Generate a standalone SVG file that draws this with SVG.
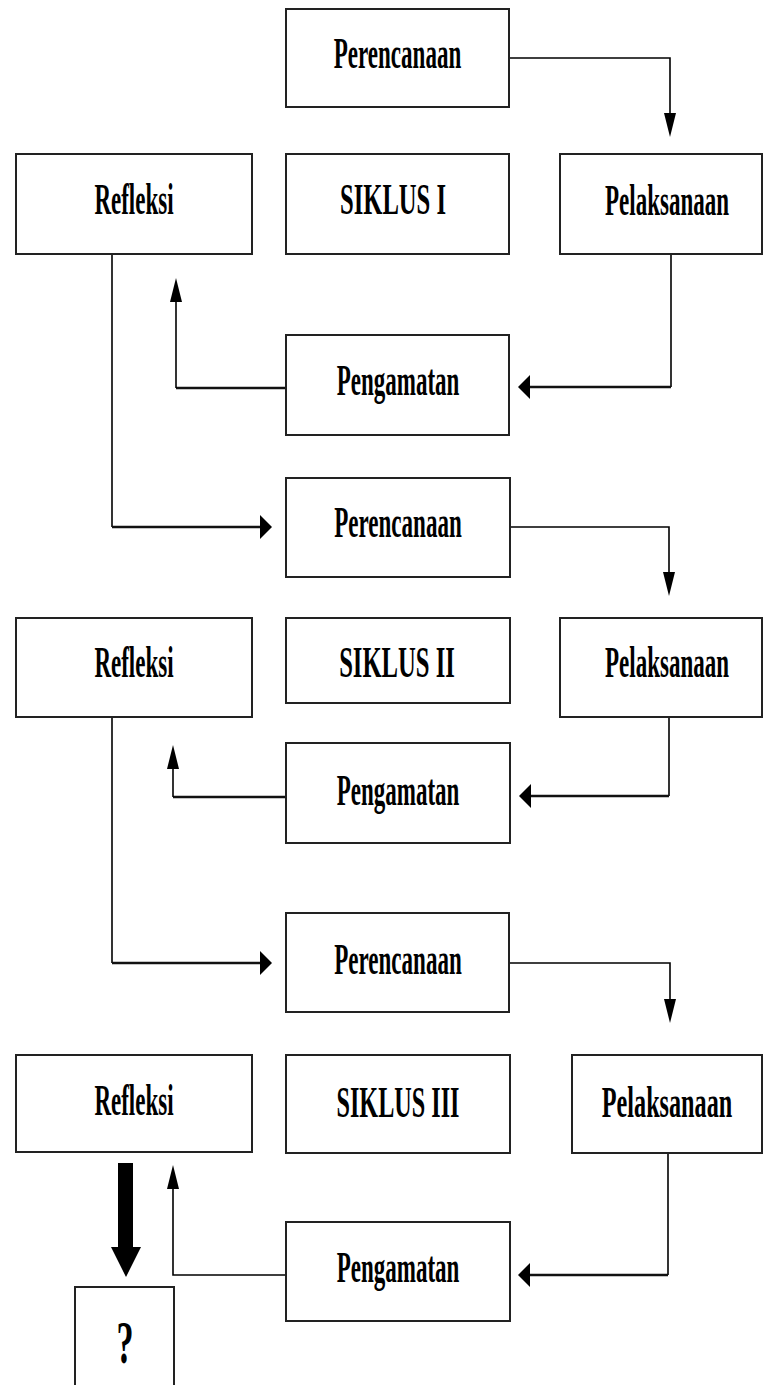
<svg xmlns="http://www.w3.org/2000/svg" width="764" height="1385" viewBox="0 0 764 1385">
<style>
.box{fill:#fff;stroke:#222;stroke-width:2}
.t{font-family:"Liberation Serif","Times New Roman",serif;font-weight:bold;font-size:44px;fill:#000;text-anchor:middle}
.q{font-family:"Liberation Serif","Times New Roman",serif;font-weight:bold;font-size:62px;fill:#000;text-anchor:middle}
.c{fill:none;stroke:#000;stroke-width:1.6}
.ct{fill:none;stroke:#111;stroke-width:2.6}
</style>
<defs>
<marker id="aDown" markerUnits="userSpaceOnUse" viewBox="0 0 12 24" markerWidth="12" markerHeight="24" refX="6" refY="18" orient="0"><path d="M0,0 L12,0 L6,24 Z" fill="#000"/></marker>
<marker id="aUp" markerUnits="userSpaceOnUse" viewBox="0 0 12 24" markerWidth="12" markerHeight="24" refX="6" refY="6" orient="0"><path d="M6,0 L12,24 L0,24 Z" fill="#000"/></marker>
<marker id="aLeft" markerUnits="userSpaceOnUse" viewBox="0 0 12 24" markerWidth="12" markerHeight="24" refX="4" refY="12" orient="0"><path d="M0,12 L12,0 L12,24 Z" fill="#000"/></marker>
<marker id="aRight" markerUnits="userSpaceOnUse" viewBox="0 0 12 24" markerWidth="12" markerHeight="24" refX="8" refY="12" orient="0"><path d="M12,12 L0,0 L0,24 Z" fill="#000"/></marker>
</defs>
<rect width="764" height="1385" fill="#fff"/>

<g id="connectors">
<path class="c" d="M509,58 H670 V131" marker-end="url(#aDown)"/>
<path class="c" d="M671,254 V387"/>
<path class="ct" d="M671,387 H522" marker-end="url(#aLeft)"/>
<path class="ct" d="M286,388 H176"/>
<path class="c" d="M176,388 V284" marker-end="url(#aUp)"/>
<path class="c" d="M112,254 V527"/>
<path class="ct" d="M112,527 H268" marker-end="url(#aRight)"/>
<path class="c" d="M510,527 H669 V590" marker-end="url(#aDown)"/>
<path class="c" d="M669,717 V796"/>
<path class="ct" d="M669,796 H523" marker-end="url(#aLeft)"/>
<path class="ct" d="M286,797 H173"/>
<path class="c" d="M173,797 V751" marker-end="url(#aUp)"/>
<path class="c" d="M112,717 V963"/>
<path class="ct" d="M112,963 H268" marker-end="url(#aRight)"/>
<path class="c" d="M509,963 H670 V1017" marker-end="url(#aDown)"/>
<path class="c" d="M668,1153 V1275"/>
<path class="ct" d="M668,1275 H522" marker-end="url(#aLeft)"/>
<path class="c" d="M286,1275 H173 V1171" marker-end="url(#aUp)"/>
<polygon points="118,1163 133,1163 133,1247 141,1247 126,1277 111,1247 118,1247" fill="#000"/>
</g>

<g id="perencanaan1"><rect class="box" x="286" y="9" width="223" height="98"/><text class="t" transform="translate(397.5,68) scale(0.524,1)">Perencanaan</text></g>
<g id="refleksi1"><rect class="box" x="16" y="154" width="236" height="100"/><text class="t" transform="translate(134,214) scale(0.523,1)">Refleksi</text></g>
<g id="siklus1"><rect class="box" x="286" y="154" width="223" height="100"/><text class="t" transform="translate(393,214) scale(0.56,1)">SIKLUS I</text></g>
<g id="pelaksanaan1"><rect class="box" x="560" y="154" width="202" height="100"/><text class="t" transform="translate(667,215) scale(0.523,1)">Pelaksanaan</text></g>
<g id="pengamatan1"><rect class="box" x="286" y="335" width="223" height="100"/><text class="t" transform="translate(398,395) scale(0.523,1)">Pengamatan</text></g>

<g id="perencanaan2"><rect class="box" x="286" y="478" width="224" height="99"/><text class="t" transform="translate(398,537) scale(0.524,1)">Perencanaan</text></g>
<g id="refleksi2"><rect class="box" x="16" y="618" width="236" height="99"/><text class="t" transform="translate(134,677) scale(0.523,1)">Refleksi</text></g>
<g id="siklus2"><rect class="box" x="286" y="618" width="224" height="85"/><text class="t" transform="translate(397,677) scale(0.56,1)">SIKLUS II</text></g>
<g id="pelaksanaan2"><rect class="box" x="560" y="618" width="202" height="99"/><text class="t" transform="translate(667,677) scale(0.523,1)">Pelaksanaan</text></g>
<g id="pengamatan2"><rect class="box" x="286" y="743" width="224" height="100"/><text class="t" transform="translate(398,805) scale(0.523,1)">Pengamatan</text></g>

<g id="perencanaan3"><rect class="box" x="286" y="913" width="223" height="99"/><text class="t" transform="translate(398,974) scale(0.524,1)">Perencanaan</text></g>
<g id="refleksi3"><rect class="box" x="16" y="1055" width="236" height="97"/><text class="t" transform="translate(134,1115) scale(0.523,1)">Refleksi</text></g>
<g id="siklus3"><rect class="box" x="286" y="1055" width="224" height="98"/><text class="t" transform="translate(398,1117) scale(0.55,1)">SIKLUS III</text></g>
<g id="pelaksanaan3"><rect class="box" x="572" y="1055" width="190" height="98"/><text class="t" transform="translate(667,1117) scale(0.55,1)">Pelaksanaan</text></g>
<g id="pengamatan3"><rect class="box" x="286" y="1222" width="224" height="99"/><text class="t" transform="translate(398,1282) scale(0.523,1)">Pengamatan</text></g>

<g id="hasil"><rect class="box" x="75" y="1287" width="99" height="110"/><text class="q" transform="translate(125,1363) scale(0.55,1)">?</text></g>
</svg>
